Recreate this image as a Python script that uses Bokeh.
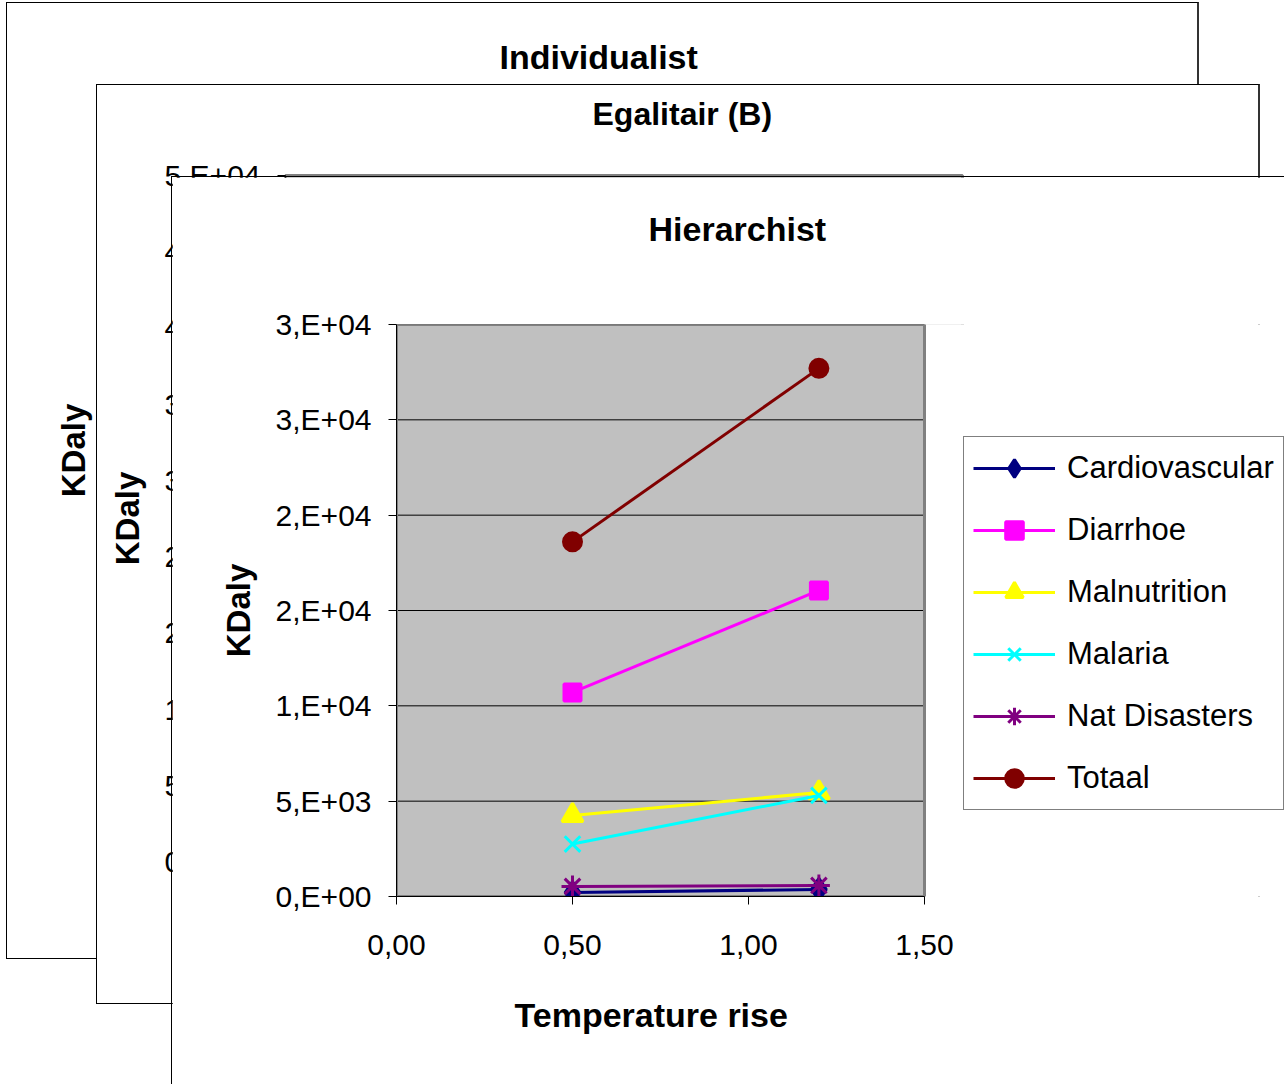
from bokeh.plotting import figure
from bokeh.layouts import column
from bokeh.models import FixedTicker, Legend, LegendItem, Range1d, Title
from bokeh.embed import file_html
from bokeh.resources import INLINE

# ---------------- data (Hierarchist panel) ----------------
temperature_rise = [0.5, 1.2]
cardiovascular = [210, 370]
diarrhoe = [10700, 16050]
malnutrition = [4250, 5450]
malaria = [2750, 5300]
nat_disasters = [530, 580]
totaal = [18600, 27700]

series_names = ["Cardiovascular", "Diarrhoe", "Malnutrition", "Malaria", "Nat Disasters", "Totaal"]
series_values = [cardiovascular, diarrhoe, malnutrition, malaria, nat_disasters, totaal]
series_colors = ["#000080", "#FF00FF", "#FFFF00", "#00FFFF", "#800080", "#800000"]
series_markers = ["diamond", "square", "triangle", "x", "asterisk", "circle"]
marker_sizes = [22, 17, 21, 22, 22, 18]

# ---------------- tick labels ----------------
x_ticks = [0.0, 0.5, 1.0, 1.5]
x_tick_labels = ["0,00", "0,50", "1,00", "1,50"]
hier_y_ticks = [0, 5000, 10000, 15000, 20000, 25000, 30000]
hier_y_labels = ["0,E+00", "5,E+03", "1,E+04", "2,E+04", "2,E+04", "3,E+04", "3,E+04"]
egal_y_ticks = [0, 5000, 10000, 15000, 20000, 25000, 30000, 35000, 40000, 45000]
egal_y_labels = ["0,E+00", "5,E+03", "1,E+04", "2,E+04", "2,E+04", "3,E+04", "3,E+04",
                 "4,E+04", "4,E+04", "5,E+04"]

panel_titles = ["Individualist", "Egalitair (B)", "Hierarchist"]
y_axis_title = "KDaly"
x_axis_title = "Temperature rise"

FONT = "Liberation Sans"


def style_axes(p, y_ticks, y_labels, ylabel_standoff, x_label=True):
    p.xaxis.ticker = FixedTicker(ticks=x_ticks)
    p.xaxis.major_label_overrides = dict(zip(x_ticks, x_tick_labels))
    p.yaxis.ticker = FixedTicker(ticks=y_ticks)
    p.yaxis.major_label_overrides = dict(zip(y_ticks, y_labels))
    for ax in (p.xaxis, p.yaxis):
        ax.axis_line_color = "#000000"
        ax.major_tick_line_color = "#000000"
        ax.major_tick_in = 0
        ax.major_tick_out = 8
        ax.minor_tick_line_color = None
        ax.major_label_text_font = FONT
        ax.major_label_text_font_size = "30px"
        ax.major_label_text_color = "#000000"
        ax.axis_label_text_font = FONT
        ax.axis_label_text_font_style = "bold"
        ax.axis_label_text_color = "#000000"
    p.yaxis.major_label_standoff = 17
    p.yaxis.major_label_orientation = "horizontal"
    p.yaxis.axis_label = y_axis_title
    p.yaxis.axis_label_text_font_size = "33px"
    p.yaxis.axis_label_standoff = ylabel_standoff
    p.xaxis.major_label_standoff = 30
    if x_label:
        p.xaxis.axis_label = x_axis_title
        p.xaxis.axis_label_text_font_size = "34px"
        p.xaxis.axis_label_standoff = 40


def style_title(p, title, size, offset, gap):
    # spacer between frame and title (the title sits outermost)
    p.add_layout(Title(text=" ", text_font_size="1px", standoff=gap), "above")
    p.title.text = title
    p.title.text_font = FONT
    p.title.text_font_size = size
    p.title.text_font_style = "bold"
    p.title.text_color = "#000000"
    p.title.align = "left"
    p.title.offset = offset
    p.title.standoff = 0


# ---------- background panels (Individualist, Egalitair) ----------
BG_LEFT = 250


def back_panel(title, width, height, frame_w, mb_top, mb_bottom, y_end, y_ticks, y_labels,
               title_size, title_offset, title_gap, ylabel_standoff, shift_x):
    p = figure(width=width, height=height,
               x_range=Range1d(x_ticks[0], x_ticks[-1]), y_range=Range1d(0, y_end),
               output_backend="svg", toolbar_location=None,
               min_border_left=BG_LEFT, min_border_right=width - BG_LEFT - frame_w,
               min_border_top=mb_top, min_border_bottom=mb_bottom,
               background_fill_color="#C0C0C0", border_fill_color="white",
               styles={"position": "absolute", "left": f"{shift_x}px", "top": "0px"})
    style_title(p, title, title_size, title_offset, title_gap)
    p.outline_line_color = "#808080"
    p.outline_line_width = 3
    p.xgrid.visible = False
    p.ygrid.grid_line_color = "#000000"
    p.ygrid.ticker = FixedTicker(ticks=y_ticks)
    style_axes(p, y_ticks, y_labels, ylabel_standoff)
    return p


def wrap(fig, left, top, width, height):
    # border-box wrapper: 1px left/top/bottom border, 2px right border
    css = {"position": "absolute", "left": f"{left}px", "top": f"{top}px", "overflow": "hidden",
           "background-color": "white", "border": "1px solid #000000",
           "border-right": "2px solid #333333"}
    return column(fig, width=width + 3, height=height + 2, styles=css)


# Individualist: frame at x 233..900, y 118..782 (page px)
p1 = back_panel(panel_titles[0], 1190, 955, 667, 115, 176, 45000, egal_y_ticks, egal_y_labels,
                "34px", 266, 40, 18, 226 - BG_LEFT)
# Egalitair (B): frame at x 285..962, y 175..862
p2 = back_panel(panel_titles[1], 1161, 918, 677, 90, 141, 45000, egal_y_ticks, egal_y_labels,
                "32px", 307, 41, 16, 188 - BG_LEFT)

# ---------- front panel (Hierarchist) ----------
H_W, H_H = 1113, 908
H_LEFT, H_TOP, H_BOTTOM = 224, 147, 189
H_PLOT_W = 528                      # width of the grey plot area
frame_w = H_W - H_LEFT              # frame runs to the right edge so the legend is not clipped
x_end = x_ticks[-1] * frame_w / H_PLOT_W

p3 = figure(width=H_W, height=H_H,
            x_range=Range1d(x_ticks[0], x_end), y_range=Range1d(hier_y_ticks[0], hier_y_ticks[-1]),
            output_backend="svg", toolbar_location=None,
            min_border_left=H_LEFT, min_border_right=0,
            min_border_top=H_TOP, min_border_bottom=H_BOTTOM,
            background_fill_color="white", border_fill_color="white",
            styles={"position": "absolute", "left": "171px", "top": "176px",
                    "border-left": "1px solid #000000", "border-top": "1px solid #000000"})
style_title(p3, panel_titles[2], "34px", 252, 74)
p3.outline_line_color = None
p3.xgrid.visible = False
p3.ygrid.visible = False
style_axes(p3, hier_y_ticks, hier_y_labels, 16, x_label=False)
p3.xaxis.bounds = (x_ticks[0], x_ticks[-1])
# x-axis title under the grey plot area (spacer + title in the lower border)
p3.add_layout(Title(text=" ", text_font_size="1px", standoff=33), "below")
p3.add_layout(Title(text=x_axis_title, align="left", offset=118, standoff=0,
                    text_font=FONT, text_font_size="34px", text_font_style="bold",
                    text_color="#000000"), "below")

# grey plot area, horizontal grid lines and plot-area border
p3.quad(left=[x_ticks[0]], right=[x_ticks[-1]], bottom=[hier_y_ticks[0]], top=[hier_y_ticks[-1]],
        fill_color="#C0C0C0", line_color=None, level="image")
p3.segment(x0=[x_ticks[0]] * len(hier_y_ticks), x1=[x_ticks[-1]] * len(hier_y_ticks),
           y0=hier_y_ticks, y1=hier_y_ticks, line_color="#000000", line_width=1, level="underlay")
p3.quad(left=[x_ticks[0]], right=[x_ticks[-1]], bottom=[hier_y_ticks[0]], top=[hier_y_ticks[-1]],
        fill_color=None, line_color="#808080", line_width=3, level="underlay")

items = []
for name, vals, color, marker, size in zip(series_names, series_values, series_colors,
                                           series_markers, marker_sizes):
    ln = p3.line(temperature_rise, vals, line_color=color, line_width=3)
    sc = p3.scatter(temperature_rise, vals, marker=marker, size=size,
                    fill_color=color, line_color=color, line_width=3)
    items.append(LegendItem(label=name, renderers=[ln, sc]))

legend = Legend(items=items, location=(567, 86),
                border_line_color="#000000", border_line_width=1,
                background_fill_color="white", background_fill_alpha=1.0,
                label_text_font=FONT, label_text_font_size="31px", label_text_color="#000000",
                glyph_width=82, glyph_height=44, label_height=44,
                padding=9, spacing=18, label_standoff=12, margin=0)
p3.add_layout(legend)

w1 = wrap(p1, 6, 2, 1190, 955)
w2 = wrap(p2, 96, 84, 1161, 918)

root = column(w1, w2, p3, width=1285, height=1085,
              styles={"position": "relative", "overflow": "hidden"})

open("out.html", "w").write(file_html(root, INLINE))
